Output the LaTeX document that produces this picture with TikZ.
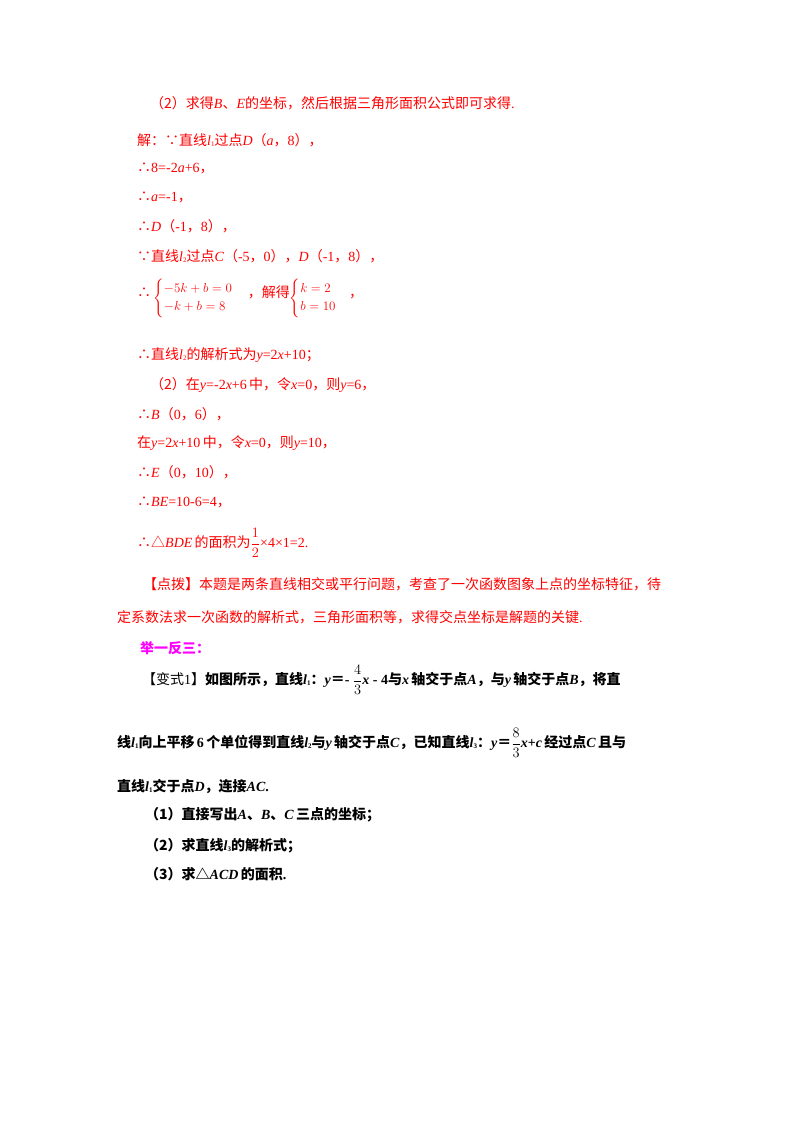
\documentclass[tikz,border=0pt]{standalone}
\usepackage{fontspec}
\usepackage{amsmath}
\usepackage{graphicx}
\setmainfont{Liberation Serif}
\newfontfamily\cjk{Noto Sans CJK SC}
\newcommand\zh[1]{{\cjk #1}}
\definecolor{myred}{RGB}{255,0,0}
\definecolor{mymag}{RGB}{255,0,255}
\begin{document}
\begin{tikzpicture}[x=1pt,y=-1pt,
  t/.style={anchor=west,inner sep=0pt,font=\fontsize{14}{16}\selectfont,text=myred},
  b/.style={anchor=west,inner sep=0pt,font=\fontsize{14}{16}\selectfont\bfseries,text=black}]
\useasboundingbox (0,0) rectangle (800,1132);
\fill[white] (0,0) rectangle (800,1132);
\node[t] (l1) at (150,103) {\zh{（2）求得}\textit{B}\zh{、}\textit{E}\zh{的坐标，然后根据三角形面积公式即可求得}.};
\node[t] (l2) at (137,140) {\zh{解：∵直线}\textit{l}\raisebox{-1pt}{\scriptsize 1}\zh{过点}\textit{D}\zh{（}\textit{a}\zh{，}8\zh{），}};
\node[t] (l3) at (137,168) {\zh{∴}8=-2\textit{a}+6\zh{，}};
\node[t] (l4) at (137,197) {\zh{∴}\textit{a}=-1\zh{，}};
\node[t] (l5) at (137,226) {\zh{∴}\textit{D}\zh{（}-1\zh{，}8\zh{），}};
\node[t] (l6) at (137,256) {\zh{∵直线}\textit{l}\raisebox{-1pt}{\scriptsize 2}\zh{过点}\textit{C}\zh{（}-5\zh{，}0\zh{），}\textit{D}\zh{（}-1\zh{，}8\zh{），}};
\node[t] (l7) at (137,298) {\zh{∴}\,\raisebox{-4pt}{\scalebox{0.9}{$\begin{cases}-5k+b=0\\ -k+b=8\end{cases}$}}\,\zh{，解得}\raisebox{-4pt}{\scalebox{0.9}{$\begin{cases}k=2\\ b=10\end{cases}$}}\zh{，}};
\node[t] (l8) at (137,355) {\zh{∴直线}\textit{l}\raisebox{-1pt}{\scriptsize 2}\zh{的解析式为}\textit{y}=2\textit{x}+10\zh{；}};
\node[t] (l9) at (150,385) {\zh{（2）在}\textit{y}=-2\textit{x}+6\,\zh{中，令}\textit{x}=0\zh{，则}\textit{y}=6\zh{，}};
\node[t] (l10) at (137,414) {\zh{∴}\textit{B}\zh{（}0\zh{，}6\zh{），}};
\node[t] (l11) at (137,443) {\zh{在}\textit{y}=2\textit{x}+10\,\zh{中，令}\textit{x}=0\zh{，则}\textit{y}=10\zh{，}};
\node[t] (l12) at (137,472) {\zh{∴}\textit{E}\zh{（}0\zh{，}10\zh{），}};
\node[t] (l13) at (137,502) {\zh{∴}\textit{BE}=10-6=4\zh{，}};
\node[t] (l14) at (137,543) {\zh{∴△}\textit{BDE}\,\zh{的面积为}$\dfrac{1}{2}$×4×1=2.};
\node[t] (l15) at (143,584) {\zh{【点拨】本题是两条直线相交或平行问题，考查了一次函数图象上点的坐标特征，待}};
\node[t] (l16) at (117,617) {\zh{定系数法求一次函数的解析式，三角形面积等，求得交点坐标是解题的关键}.};
\node[t,text=mymag,font=\fontsize{14}{16}\selectfont\bfseries] (l17) at (140,648) {\zh{\textbf{举一反三：}}};
\node[b] (l18) at (142,680) {{\cjk\mdseries 【变式}{\mdseries 1}{\cjk\mdseries 】}\zh{如图所示，直线}\textit{l}\raisebox{-1pt}{\scriptsize 1}\zh{：}\textit{y}\zh{＝}- $\dfrac{4}{3}$\textit{x} - 4\zh{与}\textit{x}\,\zh{轴交于点}\textit{A}\zh{，与}\textit{y}\,\zh{轴交于点}\textit{B}\zh{，将直}};
\node[b] (l19) at (117,743) {\zh{线}\textit{l}\raisebox{-1pt}{\scriptsize 1}\zh{向上平移}\,6\,\zh{个单位得到直线}\textit{l}\raisebox{-1pt}{\scriptsize 2}\zh{与}\textit{y}\,\zh{轴交于点}\textit{C}\zh{，已知直线}\textit{l}\raisebox{-1pt}{\scriptsize 3}\zh{：}\textit{y}\zh{＝}$\dfrac{8}{3}$\textit{x}+\textit{c}\,\zh{经过点}\textit{C}\,\zh{且与}};
\node[b] (l20) at (117,786) {\zh{直线}\textit{l}\raisebox{-1pt}{\scriptsize 1}\zh{交于点}\textit{D}\zh{，连接}\textit{AC}.};
\node[b] (l21) at (145,815) {\zh{（1）直接写出}\textit{A}\zh{、}\textit{B}\zh{、}\textit{C}\,\zh{三点的坐标；}};
\node[b] (l22) at (145,846) {\zh{（2）求直线}\textit{l}\raisebox{-1pt}{\scriptsize 3}\zh{的解析式；}};
\node[b] (l23) at (145,874) {\zh{（3）求△}\textit{ACD}\,\zh{的面积}.};
\end{tikzpicture}
\end{document}
